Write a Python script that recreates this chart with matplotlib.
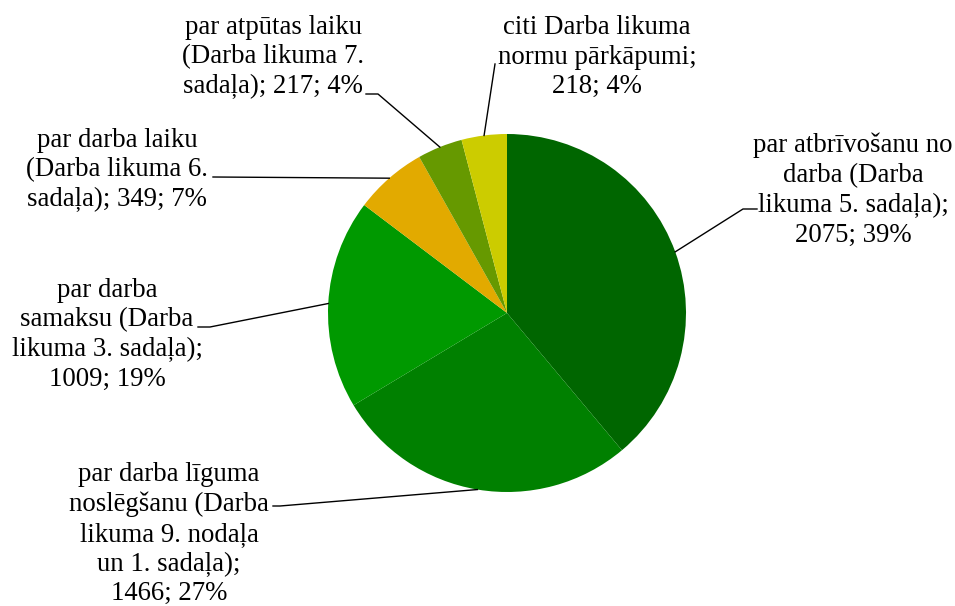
import numpy as np
import matplotlib.pyplot as plt

plt.rcParams['font.family'] = ['Liberation Serif', 'DejaVu Serif']

# data
names = ['par atbrīvošanu no\ndarba (Darba\nlikuma 5. sadaļa)',
         'par darba līguma\nnoslēgšanu (Darba\nlikuma 9. nodaļa\nun 1. sadaļa)',
         'par darba\nsamaksu (Darba\nlikuma 3. sadaļa)',
         'par darba laiku\n(Darba likuma 6.\nsadaļa)',
         'par atpūtas laiku\n(Darba likuma 7.\nsadaļa)',
         'citi Darba likuma\nnormu pārkāpumi']
values = [2075, 1466, 1009, 349, 217, 218]
value_on_new_line = [True, True, True, False, False, True]
colors = ['#006600', '#008000', '#009900', '#e2aa00', '#669900', '#cccc00']

# layout (pixel coords, y down)
cx, cy, r = 507, 313, 179
text_pos = [(853, 190), (169, 534), (107, 335), (117, 170), (273, 57), (597, 57)]
elbows = [((743, 209), 757), ((280, 506), 273), ((210, 327), 198),
          ((213, 177), 213), ((378, 94), 366), ((495, 64), 495)]

fig = plt.figure(figsize=(9.55, 6.06), dpi=100)
ax = fig.add_axes([0, 0, 1, 1])

wedges, _ = ax.pie(values, colors=colors, startangle=-90, counterclock=True,
                   center=(cx, cy), radius=r, wedgeprops=dict(linewidth=0))
ax.set_xlim(0, 955)
ax.set_ylim(606, 0)
ax.set_aspect('equal')
ax.axis('off')

total = sum(values)
for i, w in enumerate(wedges):
    pct = values[i] / total * 100
    sep = ';\n' if value_on_new_line[i] else '; '
    label = '{}{}{}; {:.0f}%'.format(names[i], sep, values[i], pct)
    ax.text(text_pos[i][0], text_pos[i][1], label, ha='center', va='center',
            fontsize=19.3, linespacing=1.25, color='black')

    mid = np.deg2rad((w.theta1 + w.theta2) / 2)
    ex = cx + r * np.cos(mid)
    ey = cy + r * np.sin(mid)
    (bx, by), tx = elbows[i]
    ax.plot([ex, bx, tx], [ey, by, by], color='black', lw=1)

plt.savefig('out.png', dpi=100)
